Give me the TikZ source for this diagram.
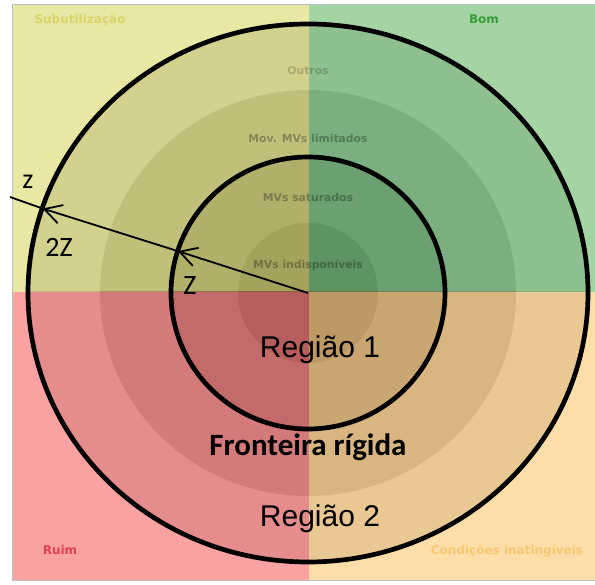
\documentclass[tikz,border=0pt]{standalone}
\usepackage{fontspec}
\setmainfont{Liberation Sans}
\newfontfamily\calib{Carlito}
\newfontfamily\dvs{DejaVu Sans}
\usetikzlibrary{arrows.meta}

\definecolor{quadTL}{RGB}{232,232,164}
\definecolor{quadTR}{RGB}{164,212,164}
\definecolor{quadBL}{RGB}{250,162,162}
\definecolor{quadBR}{RGB}{254,222,168}
\definecolor{shadeTL}{RGB}{90,90,20}
\definecolor{shadeTR}{RGB}{20,80,30}
\definecolor{shadeBL}{RGB}{110,20,20}
\definecolor{shadeBR}{RGB}{120,80,30}
\definecolor{labTL}{RGB}{212,212,104}
\definecolor{labTR}{RGB}{60,156,60}
\definecolor{labBL}{RGB}{226,64,82}
\definecolor{labBR}{RGB}{248,200,112}

\begin{document}
\begin{tikzpicture}[x=1pt,y=-1pt,
  tierdisk/.style={fill opacity=0.15,draw=none},
  boundary/.style={draw=black,line width=4.7pt},
  tier/.style={font=\dvs\bfseries\fontsize{10.8}{12}\selectfont,text=black,text opacity=0.3,inner sep=0pt},
  quad/.style={font=\dvs\bfseries\fontsize{12}{14}\selectfont,inner sep=0pt},
  regionlab/.style={font=\fontsize{30}{36}\selectfont,inner sep=0pt},
  zlab/.style={font=\calib\fontsize{28}{32}\selectfont,inner sep=0pt},
  radiusline/.style={line width=1.8pt},
  radiusarrow/.style={line width=1.8pt,-{Straight Barb[length=17pt,width=19pt]}}
]
\useasboundingbox (0,0) rectangle (595,585);
\coordinate (o) at (308,293);

% quadrants, each with its own stack of darker tier disks
\foreach \xa/\ya/\xb/\yb/\base/\shade in
  {12/4/309/292/quadTL/shadeTL, 309/4/595/292/quadTR/shadeTR,
   12/292/309/580/quadBL/shadeBL, 309/292/595/580/quadBR/shadeBR}{
  \begin{scope}
    \clip (\xa,\ya) rectangle (\xb,\yb);
    \fill[\base] (\xa,\ya) rectangle (\xb,\yb);
    \fill[tierdisk,fill=\shade] (o) ellipse [x radius=280pt, y radius=269pt];
    \fill[tierdisk,fill=\shade] (o) ellipse [x radius=208pt, y radius=203pt];
    \fill[tierdisk,fill=\shade] (o) ellipse [x radius=137pt, y radius=136pt];
    \fill[tierdisk,fill=\shade] (o) ellipse [x radius=70pt, y radius=70pt];
  \end{scope}
}
\draw[black!25,line width=0.8pt] (595,4) -- (12,4) -- (12,580) -- (595,580);

% quadrant labels
\node[quad,text=labTL] (sub) at (80,20) {Subutilização};
\node[quad,text=labTR] (bom) at (484,19) {Bom};
\node[quad,text=labBL] (ruim) at (60,550) {Ruim};
\node[quad,text=labBR] (cond) at (507,551) {Condições inatingíveis};

% tier labels
\node[tier,text opacity=0.2] (outros) at (308,71) {Outros};
\node[tier] (mov) at (308,138) {Mov. MVs limitados};
\node[tier] (sat) at (308,197) {MVs saturados};
\node[tier] (ind) at (308,265) {MVs indisponíveis};

% region boundaries
\draw[boundary] (o) ellipse [x radius=280pt, y radius=269pt];
\draw[boundary] (o) ellipse [x radius=137pt, y radius=136pt];

% radius with arrowheads on both boundaries
\coordinate (p1) at (177.8,251.1);
\coordinate (p2) at (42.5,208.5);
\coordinate (zend) at (10,197);
\draw[radiusarrow] (o) -- (p1);
\draw[radiusarrow] (p1) -- (p2);
\draw[radiusline] (p2) -- (zend);

\node[zlab] (zsmall) at (28,182) {z};
\node[zlab] (z2) at (59,247) {2Z};
\node[zlab] (z1) at (190,286) {Z};

% region names
\node[regionlab] (r1) at (320,350) {Região 1};
\node[font=\calib\bfseries\fontsize{31}{36}\selectfont,inner sep=0pt] (front) at (308,447) {Fronteira rígida};
\node[regionlab] (r2) at (320,519) {Região 2};
\end{tikzpicture}
\end{document}
